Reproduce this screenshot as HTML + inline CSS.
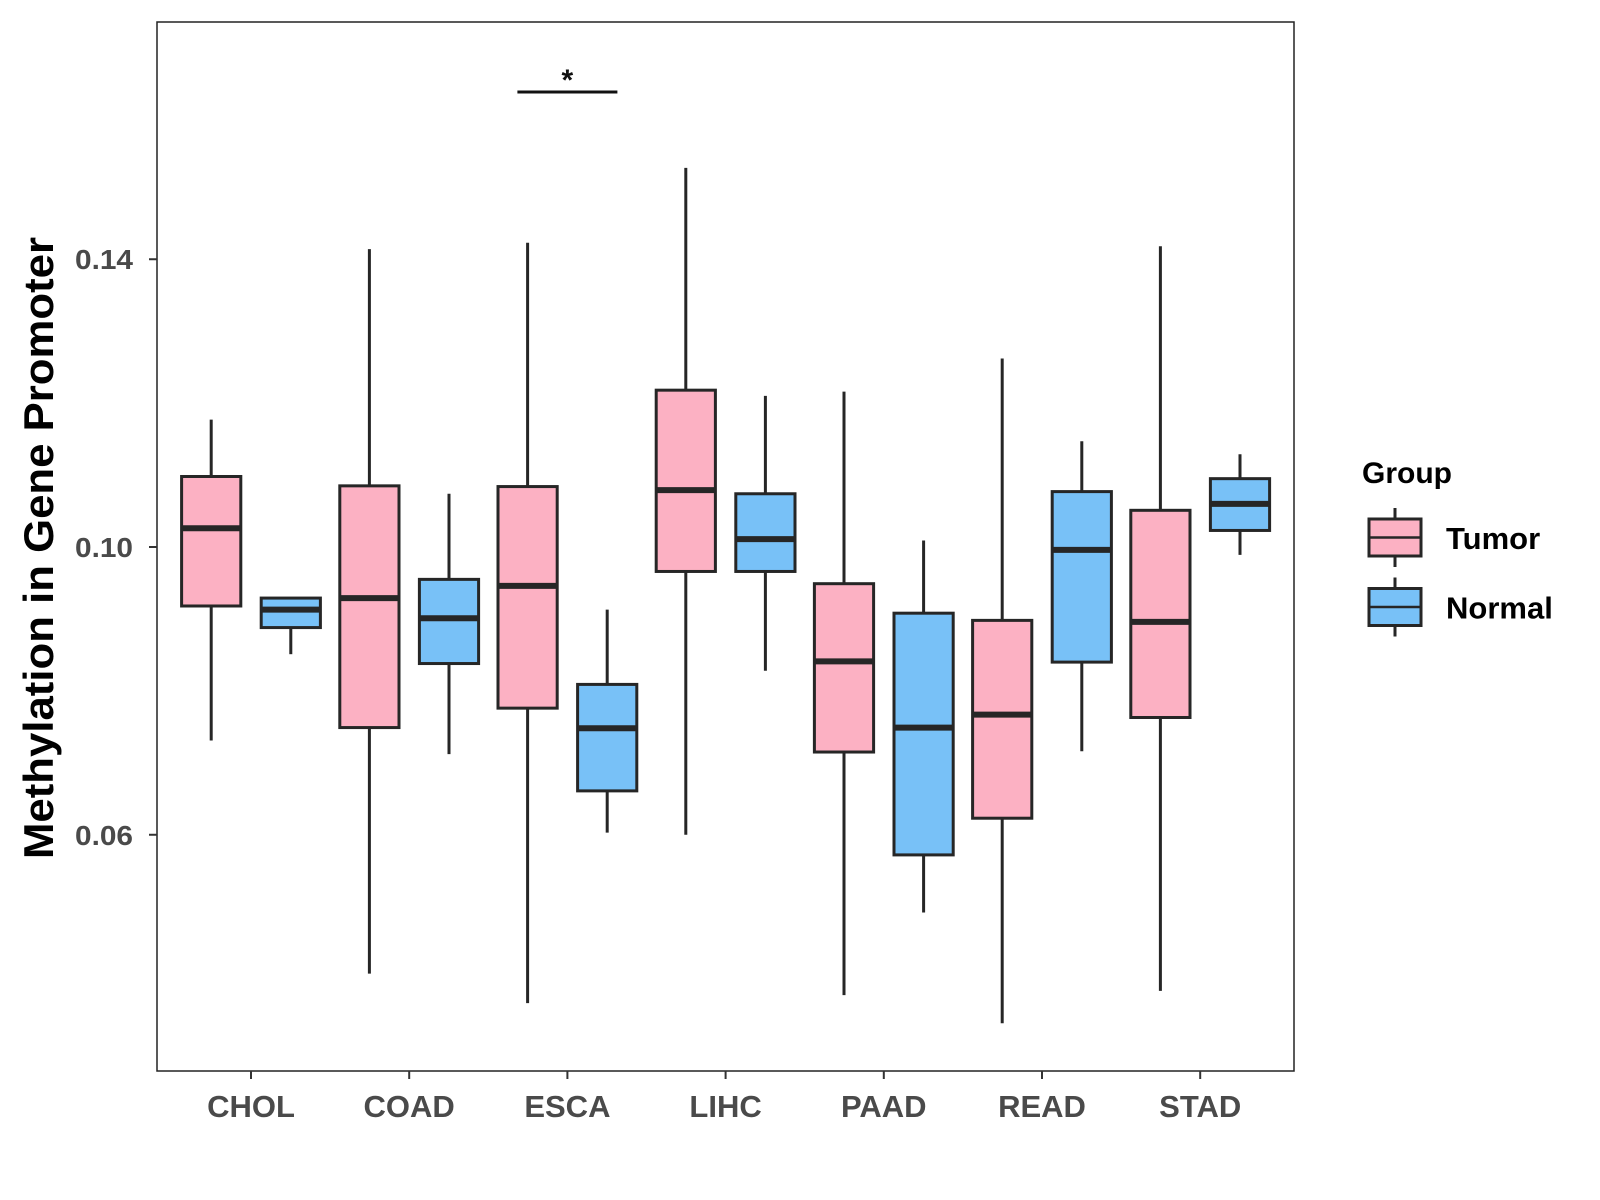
<!DOCTYPE html>
<html><head><meta charset="utf-8"><style>
html,body{margin:0;padding:0;background:#fff;}
svg{display:block;font-family:"Liberation Sans",Arial,sans-serif;}
</style></head><body>
<svg id="chart" width="1600" height="1200"></svg>
<script>
const categories=["CHOL","COAD","ESCA","LIHC","PAAD","READ","STAD"];
const groups=["Tumor","Normal"];
// [whiskerMax, q3, median, q1, whiskerMin]
const tumorStats=[
[0.1177,0.1098,0.1026,0.0918,0.0731],
[0.1414,0.1085,0.0929,0.0749,0.0407],
[0.1423,0.1084,0.0946,0.0776,0.0366],
[0.1527,0.1218,0.1079,0.0966,0.0600],
[0.1216,0.0949,0.0841,0.0715,0.0377],
[0.1262,0.0898,0.0767,0.0623,0.0338],
[0.1418,0.1051,0.0896,0.0763,0.0383]];
const normalStats=[
[0.0929,0.0929,0.0913,0.0888,0.0851],
[0.1074,0.0955,0.0901,0.0838,0.0712],
[0.0913,0.0809,0.0748,0.0661,0.0603],
[0.1210,0.1074,0.1011,0.0966,0.0828],
[0.1009,0.0908,0.0749,0.0572,0.0492],
[0.1147,0.1077,0.0996,0.0840,0.0716],
[0.1129,0.1095,0.1060,0.1023,0.0989]];
const yTicks=[0.06,0.10,0.14];
const yTickLabels=["0.06","0.10","0.14"];
const sigCategory="ESCA";

const NS="http://www.w3.org/2000/svg";
const svg=document.getElementById('chart');
function mk(tag,attrs,parent){const e=document.createElementNS(NS,tag);for(const k in attrs)e.setAttribute(k,attrs[k]);(parent||svg).appendChild(e);return e;}
const P={x0:157,x1:1294,y0:22,y1:1071};
function y(v){return 547.0-(v-0.10)*7194;}
function x(i){return 251+i*158.2;}
const colors={Tumor:"#FCB1C3",Normal:"#78C1F7"};
const stroke="#262626";
const bw=59.2, off=39.8;

let r=mk('rect',{x:P.x0,y:P.y0,width:P.x1-P.x0,height:P.y1-P.y0,fill:'none',stroke:'#222','stroke-width':1.5});



yTicks.forEach((t,i)=>{
  const l=mk('line',{x1:P.x0-8,x2:P.x0,y1:y(t),y2:y(t),stroke:'#333','stroke-width':2});
  
  
  const tx=mk('text',{x:P.x0-24,y:y(t)+10,'text-anchor':'end','font-size':28,'font-weight':'bold',fill:'#4a4a4a',textLength:58,lengthAdjust:'spacingAndGlyphs'});
  tx.textContent=yTickLabels[i];
  
  
});
categories.forEach((c,i)=>{
  const l=mk('line',{x1:x(i),x2:x(i),y1:P.y1,y2:P.y1+8,stroke:'#333','stroke-width':2});
  
  
  const tx=mk('text',{x:x(i),y:1117,'text-anchor':'middle','font-size':31,'font-weight':'bold',fill:'#4a4a4a'});
  tx.textContent=c;
  
  
});

function box(cx,s,fill,name){
  const g=mk('g',{});
  
  
  mk('line',{x1:cx,x2:cx,y1:y(s[0]),y2:y(s[4]),stroke:stroke,'stroke-width':3},g);
  mk('rect',{x:cx-bw/2,y:y(s[1]),width:bw,height:y(s[3])-y(s[1]),fill:fill,stroke:stroke,'stroke-width':3},g);
  mk('line',{x1:cx-bw/2,x2:cx+bw/2,y1:y(s[2]),y2:y(s[2]),stroke:stroke,'stroke-width':6},g);
}
categories.forEach((c,i)=>{
  box(x(i)-off,tumorStats[i],colors.Tumor,'box-tumor-'+c.toLowerCase());
  box(x(i)+off,normalStats[i],colors.Normal,'box-normal-'+c.toLowerCase());
});

const si=categories.indexOf(sigCategory);
const sb=mk('line',{x1:x(si)-50,x2:x(si)+50,y1:92,y2:92,stroke:'#111','stroke-width':3});


const st=mk('text',{x:x(si),y:90,'text-anchor':'middle','font-size':30,'font-weight':'bold',fill:'#111'});
st.textContent='*';



const yt=mk('text',{x:0,y:0,transform:'translate(53,548) rotate(-90)','text-anchor':'middle','font-size':42,'font-weight':'bold',fill:'#000',textLength:622,lengthAdjust:'spacingAndGlyphs'});
yt.textContent='Methylation in Gene Promoter';



const lt=mk('text',{x:1362,y:483,'font-size':30,'font-weight':'bold',fill:'#000'});
lt.textContent='Group';


groups.forEach((gname,i)=>{
  const top=519+i*69.5;
  const g=mk('g',{});
  
  
  mk('line',{x1:1395,x2:1395,y1:top-11,y2:top+48,stroke:stroke,'stroke-width':3},g);
  mk('rect',{x:1369,y:top,width:52,height:37,fill:colors[gname],stroke:stroke,'stroke-width':3},g);
  mk('line',{x1:1369,x2:1421,y1:top+18.5,y2:top+18.5,stroke:stroke,'stroke-width':2.5},g);
  const t=mk('text',{x:1446,y:top+30,'font-size':31,'font-weight':'bold',fill:'#000'},g);
  t.textContent=gname;
});
</script>
</body></html>
